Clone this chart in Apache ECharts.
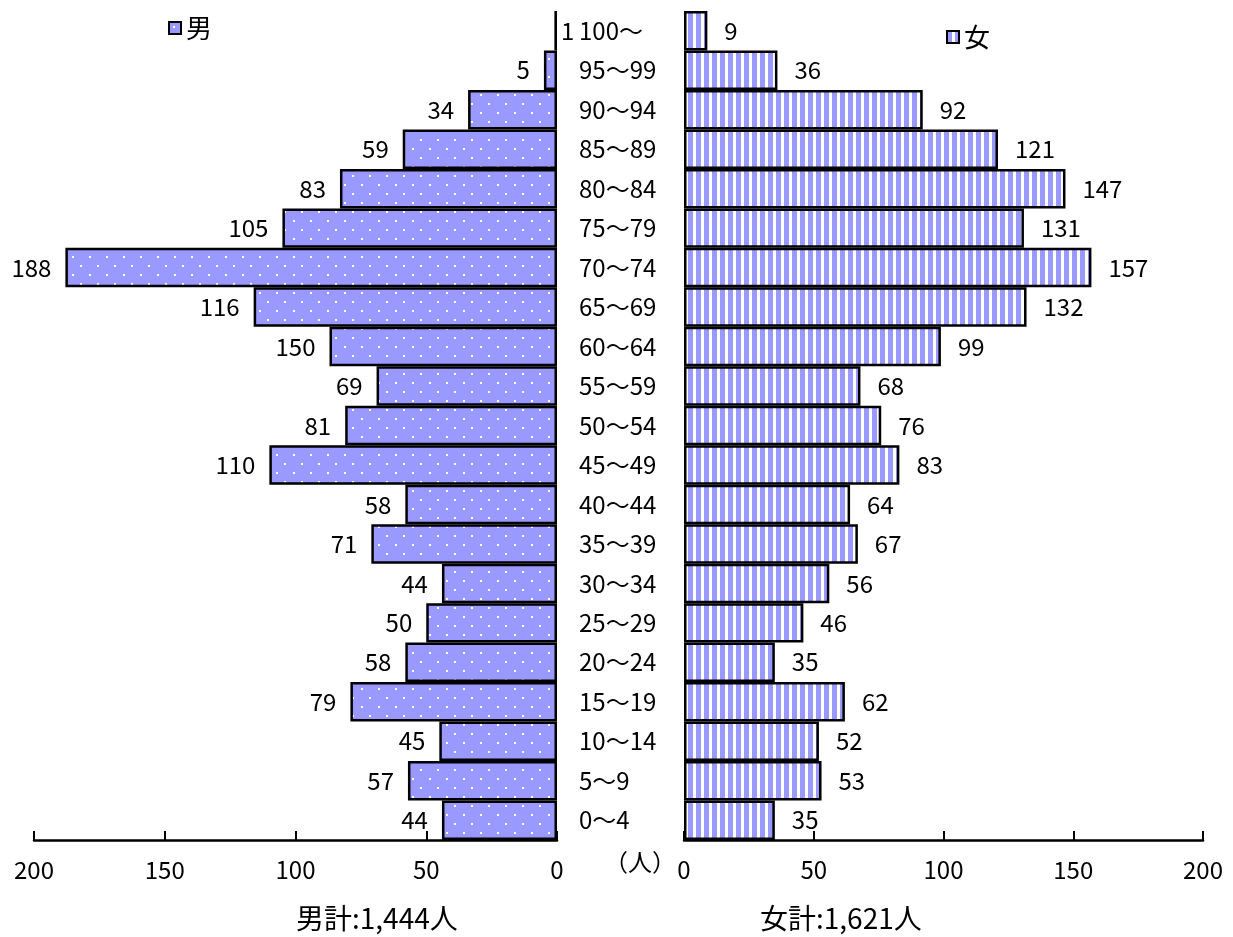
<!DOCTYPE html>
<html><head><meta charset="utf-8">
<script src="https://cdn.jsdelivr.net/npm/echarts@6/dist/echarts.min.js"></script>
<style>html,body{margin:0;padding:0;background:#fff}#c{width:1233px;height:937px}</style>
</head><body><div id="c"></div>
<script>
const categories = ['0～4','5～9','10～14','15～19','20～24','25～29','30～34','35～39','40～44','45～49','50～54','55～59','60～64','65～69','70～74','75～79','80～84','85～89','90～94','95～99','100～'];
const maleValues = [44,57,45,79,58,50,44,71,58,110,81,69,87,116,188,105,83,59,34,5,1];
const maleLabels = ['44','57','45','79','58','50','44','71','58','110','81','69','150','116','188','105','83','59','34','5','1'];
const femaleValues = [35,53,52,62,35,46,56,67,64,83,76,68,99,132,157,131,147,121,92,36,9];
const xTicks = [0,50,100,150,200];
const maleTotal = '男計:1,444人';
const femaleTotal = '女計:1,621人';

const FONT = '"Noto Sans CJK JP", "Noto Sans", sans-serif';
const BLUE = '#9999FF';

function dotPattern(){
  const c = document.createElement('canvas'); c.width = 17; c.height = 18;
  const g = c.getContext('2d');
  g.fillStyle = BLUE; g.fillRect(0,0,17,18);
  g.fillStyle = '#ffffff';
  g.fillRect(4,4,2,2); g.fillRect(12,13,2,2);
  return c;
}
function stripePattern(){
  const c = document.createElement('canvas'); c.width = 8; c.height = 8;
  const g = c.getContext('2d');
  g.fillStyle = '#ffffff'; g.fillRect(0,0,8,8);
  g.fillStyle = BLUE; g.fillRect(0,0,5,8);
  return c;
}

const chart = echarts.init(document.getElementById('c'), null, {renderer:'canvas'});
const axisCommon = {
  type:'value', min:0, max:200, interval:50,
  axisLine:{show:true, lineStyle:{color:'#000', width:2.5}},
  axisTick:{show:true, inside:true, length:9, lineStyle:{color:'#000', width:2}},
  splitLine:{show:false},
  axisLabel:{color:'#000', fontSize:24, fontFamily:FONT, margin:18,
    formatter: v => xTicks.includes(v) ? String(v) : ''}
};
chart.setOption({
  animation:false,
  backgroundColor:'#fff',
  grid:[
    {left:34, right:676, top:11, bottom:97},
    {left:684, right:30, top:11, bottom:97}
  ],
  legend:[
    {data:['男'], left:163, top:10, icon:'rect', itemWidth:12, itemHeight:12, itemGap:5,
      textStyle:{fontSize:26, fontFamily:FONT, color:'#000'}},
    {data:['女'], left:941, top:19, icon:'rect', itemWidth:12, itemHeight:12, itemGap:5,
      textStyle:{fontSize:26, fontFamily:FONT, color:'#000'}}
  ],
  xAxis:[
    Object.assign({gridIndex:0, inverse:true}, axisCommon),
    Object.assign({gridIndex:1}, axisCommon)
  ],
  yAxis:[
    {type:'category', gridIndex:0, data:categories, axisLine:{show:false}, axisTick:{show:false}, axisLabel:{show:false}},
    {type:'category', gridIndex:1, data:categories, axisLine:{show:false}, axisTick:{show:false},
      axisLabel:{show:true, align:'left', margin:105, color:'#000', fontSize:24, fontFamily:FONT}}
  ],
  series:[
    {name:'男', type:'bar', xAxisIndex:0, yAxisIndex:0, barCategoryGap:'0%',
      itemStyle:{color:{image:dotPattern(), repeat:'repeat'}, borderColor:'#000', borderWidth:2.5},
      label:{show:true, position:'left', distance:14, color:'#000', fontSize:24, fontFamily:FONT,
        formatter: p => maleLabels[p.dataIndex]},
      data: maleValues.map((v,i) => i === maleValues.length-1
        ? {value:v, label:{position:'right', distance:4}} : v)
    },
    {name:'女', type:'bar', xAxisIndex:1, yAxisIndex:1, barCategoryGap:'0%',
      itemStyle:{color:{image:stripePattern(), repeat:'repeat'}, borderColor:'#000', borderWidth:2.5},
      label:{show:true, position:'right', distance:17, color:'#000', fontSize:24, fontFamily:FONT},
      data: femaleValues
    }
  ],
  graphic:[
    {type:'text', left:604, top:850, style:{text:'（人）', fontSize:24, fontFamily:FONT, fill:'#000'}},
    {type:'text', left:296, top:904, style:{text:maleTotal, fontSize:28, fontFamily:FONT, fill:'#000'}},
    {type:'text', left:760, top:904, style:{text:femaleTotal, fontSize:28, fontFamily:FONT, fill:'#000'}}
  ]
});
</script></body></html>
